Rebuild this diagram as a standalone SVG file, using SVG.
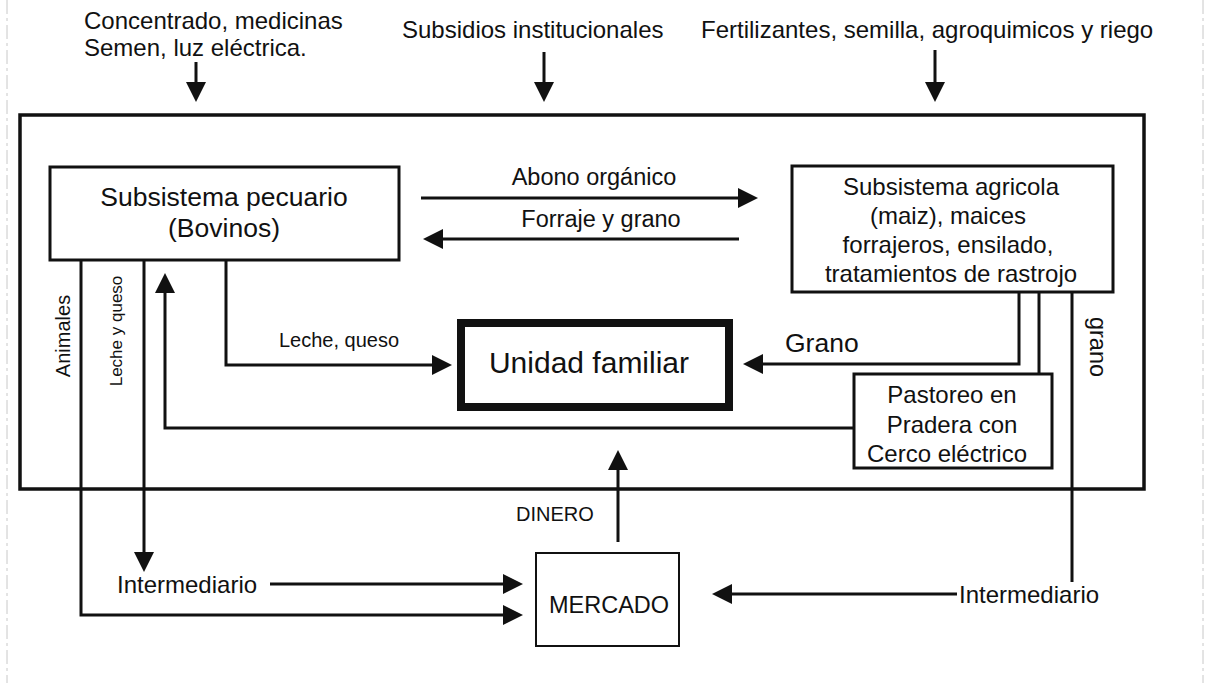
<svg xmlns="http://www.w3.org/2000/svg" width="1207" height="683" viewBox="0 0 1207 683">
<defs>
<style>
text{font-family:"Liberation Sans",Arial,sans-serif;fill:#111}
.box{fill:#fff;stroke:#111;stroke-width:3}
.ln{fill:none;stroke:#111;stroke-width:3}
.arr{fill:none;stroke:#111;stroke-width:3;marker-end:url(#ah)}
.scan{stroke:#c8c8c8;stroke-width:1;stroke-dasharray:14 4 3 4;fill:none}
</style>
<marker id="ah" viewBox="0 0 20 20" refX="4" refY="10" markerWidth="20" markerHeight="20" orient="auto" markerUnits="userSpaceOnUse">
<path d="M0,0 L20,10 L0,20 z" fill="#111"/>
</marker>
</defs>
<rect width="1207" height="683" fill="#fff"/>
<g id="scan-edges">
<line class="scan" x1="7" y1="0" x2="7" y2="683"/>
<line class="scan" x1="1203" y1="0" x2="1203" y2="683"/>
</g>

<g id="inputs">
<text x="84" y="29" font-size="24">Concentrado, medicinas</text>
<text x="84" y="56" font-size="24">Semen, luz eléctrica.</text>
<text x="402" y="38" font-size="24">Subsidios institucionales</text>
<text x="701" y="38" font-size="24">Fertilizantes, semilla, agroquimicos y riego</text>
</g>

<g id="sistema">
<rect x="20" y="115" width="1124" height="374" fill="none" stroke="#111" stroke-width="3.5"/>
</g>

<g id="pecuario">
<rect class="box" x="50" y="167" width="349" height="93"/>
<text x="224" y="206" font-size="26.5" text-anchor="middle">Subsistema pecuario</text>
<text x="224" y="237" font-size="26.5" text-anchor="middle">(Bovinos)</text>
</g>

<g id="agricola">
<rect class="box" x="792" y="166" width="321" height="126"/>
<text x="951" y="195" font-size="24" text-anchor="middle">Subsistema agricola</text>
<text x="948" y="224" font-size="24" text-anchor="middle">(maiz), maices</text>
<text x="948" y="253" font-size="24" text-anchor="middle">forrajeros, ensilado,</text>
<text x="951" y="282" font-size="24" text-anchor="middle">tratamientos de rastrojo</text>
</g>

<g id="unidad">
<rect x="461" y="323" width="268" height="84" fill="#fff" stroke="#111" stroke-width="8"/>
<text x="589" y="373" font-size="30" text-anchor="middle">Unidad familiar</text>
</g>

<g id="pastoreo">
<rect class="box" x="854" y="374" width="198" height="94"/>
<text x="952" y="403" font-size="24" text-anchor="middle">Pastoreo en</text>
<text x="952" y="433" font-size="24" text-anchor="middle">Pradera con</text>
<text x="947" y="462" font-size="24" text-anchor="middle">Cerco eléctrico</text>
</g>

<g id="mercado">
<rect x="536" y="553" width="143" height="93" fill="#fff" stroke="#111" stroke-width="2"/>
<text x="549" y="613" font-size="23.5">MERCADO</text>
</g>

<g id="intermediario-izq">
<text x="117" y="593" font-size="24">Intermediario</text>
</g>
<g id="intermediario-der">
<text x="959" y="603" font-size="24">Intermediario</text>
</g>

<g id="connectors">
<path class="arr" d="M196,62 V86"/>
<path class="arr" d="M544,52 V86"/>
<path class="arr" d="M935,50 V86"/>
<path class="arr" d="M421,198 H742"/>
<path class="arr" d="M739,239 H439"/>
<path class="arr" d="M81,260 V615 H507"/>
<path class="arr" d="M144,260 V556"/>
<path class="arr" d="M226,260 V365 H436"/>
<path class="arr" d="M854,428 H165 V289"/>
<path class="arr" d="M1019,292 V364 H759"/>
<path class="ln" d="M1039,292 V374"/>
<path class="ln" d="M1072,292 V582"/>
<path class="arr" d="M957,594 H728"/>
<path class="arr" d="M270,584 H507"/>
<path class="arr" d="M618,542 V466"/>
</g>

<g id="labels">
<text x="594" y="185" font-size="23.5" text-anchor="middle">Abono orgánico</text>
<text x="601" y="227" font-size="23.5" text-anchor="middle">Forraje y grano</text>
<text transform="translate(70,336) rotate(-90)" font-size="20" text-anchor="middle">Animales</text>
<text transform="translate(122,331) rotate(-90)" font-size="17" text-anchor="middle">Leche y queso</text>
<text x="279" y="347" font-size="20">Leche, queso</text>
<text x="785" y="352" font-size="26.5">Grano</text>
<text transform="translate(1090,347) rotate(90)" font-size="23.5" text-anchor="middle">grano</text>
<text x="516" y="521" font-size="20">DINERO</text>
</g>
</svg>
